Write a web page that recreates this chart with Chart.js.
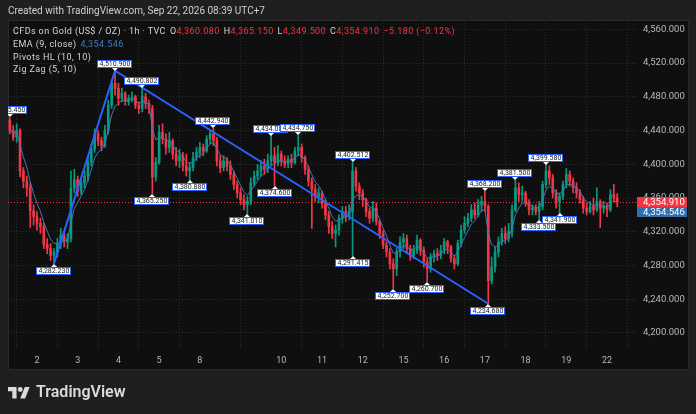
<!DOCTYPE html>
<html>
<head>
<meta charset="utf-8">
<script src="https://cdn.jsdelivr.net/npm/chart.js@4.4.1/dist/chart.umd.min.js"></script>
<style>
  body { margin: 0; width: 696px; height: 414px; overflow: hidden; position: relative; background: #1f1f1f; font-family: Roboto, "Liberation Sans", sans-serif; }
  #chart { position: absolute; left: 0; top: 0; }
  .txt { position: absolute; white-space: nowrap; line-height: 1; }
  .red { color: #f23645; }
  .blue { color: #3d7fc4; }
  .lbl { color: #d1d4dc; font-size: 9px; letter-spacing: 0.4px; }
  .gap { margin-left: 4px; }
</style>
</head>
<body>
<canvas id="chart" width="696" height="414"></canvas>

<div class="txt" style="left:8px;top:6px;font-size:10px;color:#cfcfcf">Created with TradingView.com, Sep 22, 2026 08:39 UTC+7</div>
<div class="txt lbl" style="left:13px;top:27px">CFDs on Gold (US$ / OZ) · 1h · TVC<span class="gap">O</span><span class="red">4,360.080</span><span class="gap">H</span><span class="red">4,365.150</span><span class="gap">L</span><span class="red">4,349.500</span><span class="gap">C</span><span class="red">4,354.910</span><span class="red gap">−5.180 (−0.12%)</span></div>
<div class="txt lbl" style="left:13px;top:40px">EMA (9, close)<span class="blue gap">4,354.546</span></div>
<div class="txt lbl" style="left:13px;top:53px">Pivots HL (10, 10)</div>
<div class="txt lbl" style="left:13px;top:65px">Zig Zag (5, 10)</div>

<svg style="position:absolute;left:8px;top:385px" width="22" height="15" viewBox="0 0 36 24">
  <path d="M14 22H7V10H0V3h14v19zM28 22h-8l7.5-19h8L28 22z" fill="#dcdcdc"/>
  <circle cx="20" cy="7" r="4" fill="#dcdcdc"/>
</svg>
<div class="txt" style="left:36px;top:384px;font-size:16px;font-weight:600;color:#dcdcdc">TradingView</div>

<script>
// --- data (2-hour candles) ---
const dayTicks  = [8, 20, 32, 44, 56, 80, 92, 104, 116, 128, 140, 152, 164, 176];
const dayLabels = ['2', '3', '4', '5', '8', '10', '11', '12', '15', '16', '17', '18', '19', '22'];
const yTicks = [4200, 4240, 4280, 4320, 4360, 4400, 4440, 4480, 4520, 4560];

const firstOpen = 4452;
const closes = [
  4440, 4432, 4440, 4392, 4380, 4372, 4345, 4338,
  4330, 4326, 4305, 4300, 4292, 4296, 4306, 4316, 4308, 4312, 4372, 4382,
  4368, 4378, 4386, 4402, 4418, 4436, 4428, 4422, 4440, 4470, 4496, 4490,
  4478, 4484, 4474, 4478, 4480, 4470, 4466, 4480, 4472, 4466, 4385, 4402,
  4438, 4430, 4420, 4428, 4412, 4404, 4410, 4398, 4392, 4396, 4408, 4414,
  4420, 4416, 4430, 4436, 4428, 4404, 4396, 4404, 4398, 4388, 4376, 4366,
  4358, 4352, 4356, 4378, 4386, 4392, 4398, 4394, 4404, 4410, 4402, 4412,
  4404, 4400, 4406, 4402, 4416, 4420, 4408, 4394, 4380, 4370, 4362, 4366,
  4354, 4340, 4326, 4318, 4322, 4336, 4344, 4338, 4344, 4392, 4374, 4366,
  4358, 4344, 4336, 4348, 4332, 4318, 4304, 4296, 4282, 4276, 4296, 4308,
  4312, 4300, 4292, 4298, 4310, 4298, 4284, 4276, 4290, 4294, 4292, 4298,
  4308, 4302, 4288, 4282, 4306, 4322, 4330, 4336, 4346, 4340, 4352, 4356,
  4350, 4262, 4278, 4296, 4308, 4318, 4312, 4320, 4346, 4372, 4364, 4366,
  4354, 4346, 4348, 4344, 4350, 4376, 4392, 4384, 4366, 4356, 4362, 4376,
  4388, 4380, 4372, 4366, 4358, 4348, 4344, 4350, 4346, 4356, 4348, 4350,
  4346, 4364, 4360.08, 4354.91
];
const highs = [
  4455.45, 4446, 4448, 4442, 4396, 4386, 4378, 4352,
  4344, 4336, 4330, 4312, 4306, 4300, 4312, 4324, 4320, 4318, 4392, 4394,
  4386, 4384, 4392, 4410, 4424, 4442, 4440, 4432, 4446, 4476, 4500, 4510.9,
  4496, 4490, 4486, 4482, 4486, 4482, 4474, 4490.802, 4484, 4476, 4470, 4408,
  4446, 4448, 4436, 4438, 4430, 4420, 4418, 4414, 4412, 4402, 4414, 4420,
  4426, 4424, 4434, 4440, 4442.94, 4432, 4410, 4410, 4408, 4404, 4392, 4380,
  4372, 4364, 4362, 4384, 4392, 4400, 4404, 4406, 4412, 4434.08, 4420, 4422,
  4416, 4410, 4410, 4412, 4420, 4434.75, 4424, 4410, 4398, 4384, 4376, 4372,
  4368, 4358, 4344, 4332, 4328, 4340, 4350, 4350, 4352, 4402.512, 4396, 4378,
  4370, 4360, 4348, 4356, 4354, 4334, 4322, 4308, 4300, 4288, 4300, 4314,
  4318, 4316, 4304, 4304, 4316, 4312, 4302, 4288, 4294, 4298, 4300, 4304,
  4312, 4310, 4304, 4292, 4310, 4328, 4338, 4342, 4352, 4354, 4358, 4362,
  4368.2, 4352, 4290, 4302, 4314, 4324, 4326, 4330, 4352, 4381.5, 4378, 4374,
  4368, 4358, 4352, 4352, 4356, 4380, 4399.58, 4398, 4388, 4370, 4366, 4380,
  4395, 4392, 4384, 4378, 4370, 4362, 4354, 4356, 4360, 4372, 4358, 4356,
  4354, 4370, 4376, 4365.15
];
const lows = [
  4436, 4428, 4426, 4385, 4372, 4362, 4325, 4328,
  4322, 4318, 4300, 4294, 4286, 4282.23, 4290, 4300, 4302, 4300, 4308, 4366,
  4362, 4364, 4372, 4380, 4398, 4414, 4422, 4416, 4420, 4436, 4466, 4482,
  4470, 4474, 4470, 4470, 4474, 4466, 4460, 4462, 4466, 4460, 4365.25, 4380,
  4400, 4424, 4412, 4414, 4406, 4398, 4396, 4392, 4386, 4380.88, 4392, 4404,
  4408, 4410, 4414, 4424, 4422, 4398, 4390, 4392, 4392, 4382, 4370, 4360,
  4352, 4346, 4341.01, 4352, 4374, 4382, 4386, 4388, 4390, 4398, 4374.6, 4398,
  4398, 4396, 4396, 4396, 4400, 4410, 4402, 4388, 4374, 4324, 4356, 4354,
  4348, 4334, 4318, 4312, 4302, 4316, 4330, 4332, 4334, 4291.415, 4368, 4358,
  4350, 4338, 4330, 4332, 4328, 4312, 4300, 4290, 4276, 4252.7, 4268, 4290,
  4300, 4294, 4286, 4288, 4294, 4292, 4278, 4260.7, 4272, 4284, 4286, 4288,
  4294, 4294, 4284, 4276, 4280, 4302, 4318, 4326, 4332, 4336, 4338, 4344,
  4344, 4234.68, 4258, 4272, 4290, 4304, 4306, 4308, 4314, 4344, 4356, 4356,
  4350, 4340, 4340, 4340, 4333.5, 4346, 4372, 4376, 4360, 4348, 4341.9, 4358,
  4372, 4374, 4366, 4360, 4354, 4342, 4340, 4342, 4340, 4344, 4325, 4342,
  4338, 4344, 4356, 4349.5
];

// Pivots HL labels
const pivotIdx   = [0, 13, 31, 39, 42, 53, 60, 70, 77, 78, 85, 101, 101, 113, 123, 140, 141, 149, 156, 158, 162];
const pivotPrice = [4455.45, 4282.23, 4510.9, 4490.802, 4365.25, 4380.88, 4442.94, 4341.01, 4434.08, 4374.6,
                    4434.75, 4402.512, 4291.415, 4252.7, 4260.7, 4368.2, 4234.68, 4381.5, 4333.5, 4399.58, 4341.9];
const pivotKind  = ['H', 'L', 'H', 'H', 'L', 'L', 'H', 'L', 'H', 'L', 'H', 'H', 'L', 'L', 'L', 'H', 'L', 'H', 'L', 'H', 'L'];

// Zig Zag
const zigzagIdx   = [13, 31, 141];
const zigzagPrice = [4282.23, 4510.9, 4234.68];

const lastPrice = 4354.91;
const emaLast = 4354.546;
const emaPeriod = 5; // EMA 9 on 1h ~ 5 two-hour bars

const UP = '#089981', DOWN = '#f23645';

const opens = closes.map((c, i) => i === 0 ? firstOpen : closes[i - 1]);
const colors = closes.map((c, i) => c >= opens[i] ? UP : DOWN);

const ema = [];
const k = 2 / (emaPeriod + 1);
closes.forEach((c, i) => ema.push(i === 0 ? c : c * k + ema[i - 1] * (1 - k)));

const fmt = v => v.toLocaleString('en-US', { minimumFractionDigits: 3, maximumFractionDigits: 3 });

// --- plugins ---
const paneBg = {
  id: 'paneBg',
  beforeDraw(chart) {
    const ctx = chart.ctx;
    ctx.save();
    ctx.fillStyle = '#0f0f0f';
    ctx.fillRect(8, 20, 681, 350);
    ctx.strokeStyle = '#2a2a2a';
    ctx.strokeRect(8.5, 20.5, 680, 349);
    ctx.restore();
  }
};

const priceLine = {
  id: 'priceLine',
  beforeDatasetsDraw(chart) {
    const { ctx, chartArea: a, scales: { y } } = chart;
    const py = Math.round(y.getPixelForValue(lastPrice)) + 0.5;
    ctx.save();
    ctx.strokeStyle = DOWN;
    ctx.lineWidth = 1;
    ctx.setLineDash([1, 2]);
    ctx.beginPath();
    ctx.moveTo(a.left, py);
    ctx.lineTo(a.right, py);
    ctx.stroke();
    ctx.restore();
  }
};

const pivotLabels = {
  id: 'pivotLabels',
  afterDatasetsDraw(chart) {
    const { ctx, chartArea: a, scales: { x, y } } = chart;
    ctx.save();
    ctx.beginPath();
    ctx.rect(a.left, a.top, a.right - a.left, a.bottom - a.top);
    ctx.clip();
    ctx.font = '7px Roboto';
    ctx.textAlign = 'center';
    ctx.textBaseline = 'middle';
    pivotIdx.forEach((idx, n) => {
      const px = Math.round(x.getPixelForValue(idx));
      const py = Math.round(y.getPixelForValue(pivotPrice[n]));
      const txt = fmt(pivotPrice[n]);
      const w = Math.round(ctx.measureText(txt).width) + 4;
      const h = 8;
      const high = pivotKind[n] === 'H';
      const by = high ? py - 3 - h : py + 3;
      const bx = px - Math.round(w / 2);
      // pointer
      ctx.fillStyle = '#ffffff';
      ctx.beginPath();
      if (high) { ctx.moveTo(px - 3, by + h); ctx.lineTo(px + 3, by + h); ctx.lineTo(px, py); }
      else { ctx.moveTo(px - 3, by); ctx.lineTo(px + 3, by); ctx.lineTo(px, py); }
      ctx.closePath();
      ctx.fill();
      ctx.fillRect(bx, by, w, h);
      ctx.strokeStyle = '#2962ff';
      ctx.lineWidth = 1;
      ctx.strokeRect(bx + 0.5, by + 0.5, w - 1, h - 1);
      ctx.fillStyle = '#131722';
      ctx.fillText(txt, px, by + h / 2 + 0.5);
    });
    ctx.restore();
  }
};

const axisBoxes = {
  id: 'axisBoxes',
  afterDraw(chart) {
    const { ctx, chartArea: a, scales: { y } } = chart;
    const py = Math.round(y.getPixelForValue(lastPrice));
    ctx.save();
    ctx.font = '9.5px Roboto';
    ctx.textAlign = 'left';
    ctx.textBaseline = 'middle';
    ctx.fillStyle = DOWN;
    ctx.fillRect(a.right, py - 5, 50, 10);
    ctx.fillStyle = '#ffffff';
    ctx.fillText(fmt(lastPrice), a.right + 6, py + 0.5);
    ctx.fillStyle = '#2f6fae';
    ctx.fillRect(a.right, py + 5, 50, 10);
    ctx.fillStyle = '#ffffff';
    ctx.fillText(fmt(emaLast), a.right + 6, py + 10.5);
    ctx.restore();
  }
};

new Chart(document.getElementById('chart'), {
  type: 'bar',
  data: {
    datasets: [
      {
        type: 'line',
        data: zigzagIdx.map((x, i) => ({ x, y: zigzagPrice[i] })),
        borderColor: '#2962ff',
        borderWidth: 2,
        pointRadius: 0,
        order: 0
      },
      {
        type: 'line',
        data: ema.map((v, i) => ({ x: i, y: v })),
        borderColor: '#3d78b4',
        borderWidth: 1,
        pointRadius: 0,
        order: 1
      },
      {
        data: closes.map((c, i) => ({ x: i, y: [opens[i], c] })),
        backgroundColor: colors,
        barThickness: 2,
        minBarLength: 1,
        grouped: false,
        order: 2
      },
      {
        data: closes.map((c, i) => ({ x: i, y: [lows[i], highs[i]] })),
        backgroundColor: colors,
        barThickness: 1,
        grouped: false,
        order: 3
      }
    ]
  },
  options: {
    responsive: false,
    animation: false,
    events: [],
    layout: { padding: { left: 8, top: 20, right: 7, bottom: 44 } },
    plugins: { legend: { display: false }, tooltip: { enabled: false } },
    scales: {
      x: {
        type: 'linear',
        min: -0.547,
        max: 184.83,
        offset: false,
        afterBuildTicks: s => { s.ticks = dayTicks.map(v => ({ value: v })); },
        afterFit: s => { s.height = 22; },
        ticks: {
          autoSkip: false,
          maxRotation: 0,
          padding: 7,
          color: '#b8b8b8',
          font: { family: 'Roboto', size: 9 },
          callback: v => dayLabels[dayTicks.indexOf(v)]
        },
        grid: { color: '#2c2c2c', drawTicks: false },
        border: { display: false, dash: [1, 2] }
      },
      y: {
        position: 'right',
        min: 4182.2,
        max: 4571.0,
        afterBuildTicks: s => { s.ticks = yTicks.map(v => ({ value: v })); },
        afterFit: s => { s.width = 52; },
        ticks: {
          padding: 6,
          color: '#b8b8b8',
          font: { family: 'Roboto', size: 9.5 },
          callback: v => fmt(v)
        },
        grid: { color: '#2c2c2c', drawTicks: false },
        border: { display: false, dash: [1, 2] }
      }
    }
  },
  plugins: [paneBg, priceLine, pivotLabels, axisBoxes]
});
</script>
</body>
</html>
